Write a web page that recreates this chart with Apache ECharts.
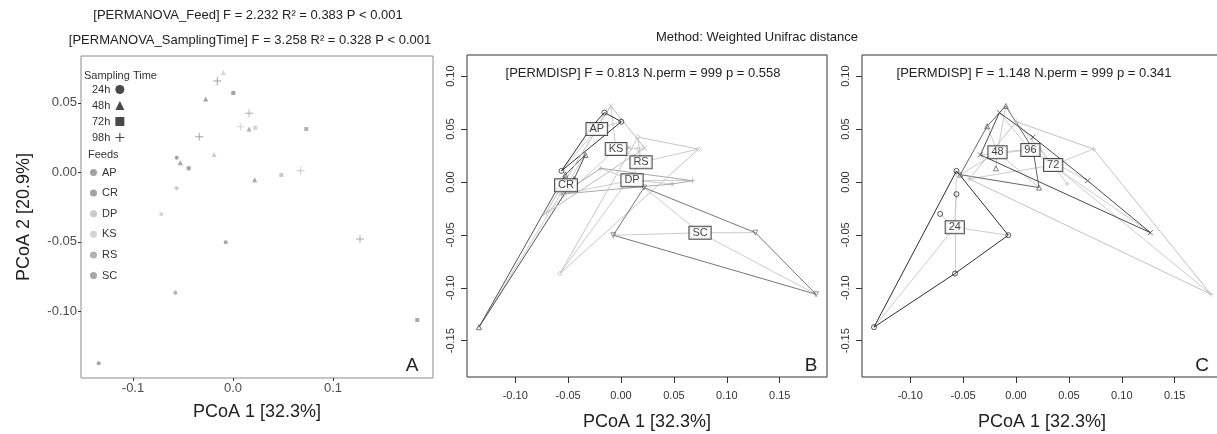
<!DOCTYPE html>
<html lang="en">
<head>
<meta charset="UTF-8" />
<title>PCoA weighted Unifrac</title>
<script src="https://cdn.jsdelivr.net/npm/echarts@6/dist/echarts.min.js"></script>
<style>
  html, body { margin: 0; padding: 0; background: #fff; }
  #main { width: 1217px; height: 434px; }
</style>
</head>
<body>
<div id="main"></div>
<script>
// one sample per feed x sampling time
const pc1 = [-0.0097, -0.0157, 0.0003, -0.0273, 0.016, 0.0077, 0.016, 0.0223, 0.0733, -0.0337, -0.019, -0.0563,
  -0.0527, -0.0443, -0.0563, -0.0717, 0.0677, 0.0483, 0.0217, -0.0073, -0.0577, -0.1343, 0.127, 0.1843]
const pc2 = [0.0718, 0.0656, 0.057, 0.0527, 0.0424, 0.0328, 0.0311, 0.032, 0.0311, 0.0256, 0.0129, 0.0105,
  0.0069, 0.0029, -0.0115, -0.0302, 0.0012, -0.0019, -0.0053, -0.0503, -0.0865, -0.1372, -0.0479, -0.1061]
const sampleFeed = ['KS', 'AP', 'AP', 'AP', 'RS', 'KS', 'RS', 'KS', 'RS', 'CR', 'DP', 'AP',
  'CR', 'CR', 'DP', 'KS', 'DP', 'DP', 'SC', 'SC', 'RS', 'CR', 'SC', 'SC']
const sampleTime = ['48', '96', '72', '48', '96', '96', '48', '72', '72', '96', '48', '24',
  '48', '72', '24', '24', '96', '72', '48', '24', '24', '24', '96', '72']

const feeds = ['AP', 'CR', 'DP', 'KS', 'RS', 'SC']
const times = ['24', '48', '72', '96']
const timeLegend = ['24h', '48h', '72h', '98h']

// group centres (where the labels sit in B and C)
const feedCentreX = [-0.0229, -0.052, 0.0104, -0.0047, 0.0189, 0.0747]
const feedCentreY = [0.050, -0.0031, 0.0016, 0.0312, 0.0186, -0.048]
const timeCentreX = [-0.0579, -0.0175, 0.0351, 0.0136]
const timeCentreY = [-0.0428, 0.0281, 0.016, 0.0302]

const ticksAx = [-0.1, 0, 0.1]
const ticksAy = [-0.1, -0.05, 0, 0.05]
const ticksBx = [-0.1, -0.05, 0, 0.05, 0.1, 0.15]
const ticksBy = [-0.15, -0.1, -0.05, 0, 0.05, 0.1]

const FONT = '"Liberation Sans", Arial, sans-serif'
const PLUS_FILL = 'path://M4.4,0H5.6V4.4H10V5.6H5.6V10H4.4V5.6H0V4.4H4.4Z'
const PLUS_LINE = 'path://M0,5L10,5M5,0L5,10'
const CROSS_LINE = 'path://M0,0L10,10M0,10L10,0'
const TRI_DOWN = 'path://M0,0L10,0L5,8.66Z'

const feedColorA = { AP: '#8a8a8a', CR: '#8c8c8c', DP: '#bdbdbd', KS: '#c9c9c9', RS: '#9d9d9d', SC: '#919191' }
const feedHull = ['#2e2e2e', '#555555', '#a9a9a9', '#bdbdbd', '#c6c6c6', '#777777']
const timeHull = ['#2e2e2e', '#666666', '#c2c2c2', '#4a4a4a']
const spokeColor = '#cdcdcd'

const timeSymA = { '24': 'circle', '48': 'triangle', '72': 'rect', '96': PLUS_FILL }
const timeSizeA = { '24': 4, '48': 5, '72': 4, '96': 8 }

const idx = pc1.map((_, i) => i)

function hull(pts) {
  const p = pts.slice().sort((a, b) => a[0] - b[0] || a[1] - b[1])
  const cross = (o, a, b) => (a[0] - o[0]) * (b[1] - o[1]) - (a[1] - o[1]) * (b[0] - o[0])
  const lower = [], upper = []
  for (const q of p) {
    while (lower.length >= 2 && cross(lower[lower.length - 2], lower[lower.length - 1], q) <= 0) lower.pop()
    lower.push(q)
  }
  for (let i = p.length - 1; i >= 0; i--) {
    const q = p[i]
    while (upper.length >= 2 && cross(upper[upper.length - 2], upper[upper.length - 1], q) <= 0) upper.pop()
    upper.push(q)
  }
  upper.pop(); lower.pop()
  const h = lower.concat(upper)
  h.push(h[0])
  return h
}

// spider + hull + points + centre labels for one panel
function groupPanel(ax, names, key, cx, cy, colors, syms) {
  const out = []
  names.forEach((g, k) => {
    const pts = idx.filter(i => key[i] === g).map(i => [pc1[i], pc2[i]])
    const c = [cx[k], cy[k]]
    out.push({
      type: 'lines', coordinateSystem: 'cartesian2d', xAxisIndex: ax, yAxisIndex: ax, silent: true, z: 2,
      lineStyle: { color: spokeColor, width: 1, opacity: 1 },
      data: pts.map(p => ({ coords: [p, c] }))
    })
    out.push({
      type: 'lines', coordinateSystem: 'cartesian2d', xAxisIndex: ax, yAxisIndex: ax, silent: true, z: 3,
      polyline: true, lineStyle: { color: colors[k], width: 1, opacity: 1 },
      data: [{ coords: hull(pts) }]
    })
    out.push({
      type: 'scatter', name: 'pt' + ax + g, xAxisIndex: ax, yAxisIndex: ax, silent: true, z: 4,
      symbol: syms[k], symbolSize: 5,
      itemStyle: { color: 'rgba(255,255,255,0)', borderColor: colors[k], borderWidth: 1 },
      data: pts
    })
  })
  out.push({
    type: 'scatter', name: 'lab' + ax, xAxisIndex: ax, yAxisIndex: ax, silent: true, z: 10,
    symbolSize: 1, itemStyle: { color: 'rgba(0,0,0,0)' },
    data: names.map((g, k) => ({ name: g, value: [cx[k], cy[k]] })),
    label: {
      show: true, position: 'inside', formatter: '{b}', fontSize: 11, color: '#111', fontFamily: FONT,
      backgroundColor: '#fff', borderColor: '#222', borderWidth: 1, padding: [1, 3, 0, 3]
    }
  })
  return out
}

function axisBC(grid, isX) {
  const ticks = isX ? ticksBx : ticksBy
  const a = {
    gridIndex: grid, type: 'value',
    min: isX ? -0.1456 : -0.1843, max: isX ? 0.1947 : 0.12,
    axisLine: { show: false, onZero: false }, splitLine: { show: false },
    axisTick: { show: true, customValues: ticks, length: 6, lineStyle: { color: '#333' } },
    axisLabel: {
      customValues: ticks, formatter: v => v.toFixed(2), fontSize: 11, color: '#333',
      fontFamily: FONT, margin: isX ? 13 : 11, rotate: isX ? 0 : 90
    }
  }
  if (isX) {
    a.name = 'PCoA 1 [32.3%]'
    a.nameLocation = 'middle'
    a.nameGap = 36
    a.nameTextStyle = { fontSize: 18, color: '#222', fontFamily: FONT }
  }
  return a
}

const seriesA = feeds.map(f => ({
  type: 'scatter', name: f, xAxisIndex: 0, yAxisIndex: 0, silent: true, symbol: 'circle',
  itemStyle: { color: feedColorA[f] },
  data: idx.filter(i => sampleFeed[i] === f).map(i => ({
    value: [pc1[i], pc2[i]], symbol: timeSymA[sampleTime[i]], symbolSize: timeSizeA[sampleTime[i]]
  }))
}))
const legendIcons = ['circle', 'triangle', 'rect', PLUS_FILL]
const timeDummies = timeLegend.map((n, k) => ({
  type: 'scatter', name: n, xAxisIndex: 0, yAxisIndex: 0, symbol: legendIcons[k],
  itemStyle: { color: '#1a1a1a' }, data: []
}))

const option = {
  animation: false,
  backgroundColor: '#fff',
  textStyle: { fontFamily: FONT },
  grid: [
    { left: 81, top: 56, width: 352, height: 322, show: true, borderColor: '#8c8c8c', borderWidth: 1, outerBoundsMode: 'none' },
    { left: 467, top: 55, width: 360, height: 322, show: true, borderColor: '#333', borderWidth: 1, outerBoundsMode: 'none' },
    { left: 862, top: 55, width: 360, height: 322, show: true, borderColor: '#333', borderWidth: 1, outerBoundsMode: 'none' }
  ],
  xAxis: [
    {
      gridIndex: 0, type: 'value', min: -0.152, max: 0.2,
      axisLine: { show: false, onZero: false }, splitLine: { show: false },
      axisTick: { show: true, customValues: ticksAx, length: 3, lineStyle: { color: '#333' } },
      axisLabel: { customValues: ticksAx, formatter: v => v.toFixed(1), fontSize: 13, color: '#4d4d4d', margin: 4 },
      name: 'PCoA 1 [32.3%]', nameLocation: 'middle', nameGap: 25,
      nameTextStyle: { fontSize: 18, color: '#222', fontFamily: FONT }
    },
    axisBC(1, true),
    axisBC(2, true)
  ],
  yAxis: [
    {
      gridIndex: 0, type: 'value', min: -0.1478, max: 0.0836,
      axisLine: { show: false, onZero: false }, splitLine: { show: false },
      axisTick: { show: true, customValues: ticksAy, length: 3, lineStyle: { color: '#333' } },
      axisLabel: { customValues: ticksAy, formatter: v => v.toFixed(2), fontSize: 13, color: '#4d4d4d', margin: 4 },
      name: 'PCoA 2 [20.9%]', nameLocation: 'middle', nameGap: 48,
      nameTextStyle: { fontSize: 18, color: '#222', fontFamily: FONT }
    },
    axisBC(1, false),
    axisBC(2, false)
  ],
  legend: [
    {
      orient: 'vertical', left: 92, top: 84, padding: 0, align: 'right', itemWidth: 9, itemHeight: 9, itemGap: 5,
      selectedMode: false, textStyle: { fontSize: 11, color: '#333' },
      data: timeLegend.map((n, k) => ({ name: n, icon: legendIcons[k], itemStyle: { color: '#1a1a1a' } }))
    },
    {
      orient: 'vertical', left: 90, top: 167, padding: 0, itemWidth: 7, itemHeight: 7, itemGap: 9.6, icon: 'circle',
      selectedMode: false, textStyle: { fontSize: 11, color: '#333' },
      data: feeds
    }
  ],
  graphic: [
    { type: 'text', x: 248, y: 15, style: { text: '[PERMANOVA_Feed] F = 2.232 R² = 0.383 P < 0.001', fontSize: 13, fontFamily: FONT, fill: '#222', align: 'center', verticalAlign: 'middle' } },
    { type: 'text', x: 250, y: 40, style: { text: '[PERMANOVA_SamplingTime] F = 3.258 R² = 0.328 P < 0.001', fontSize: 13, fontFamily: FONT, fill: '#222', align: 'center', verticalAlign: 'middle' } },
    { type: 'text', x: 757, y: 37, style: { text: 'Method: Weighted Unifrac distance', fontSize: 13, fontFamily: FONT, fill: '#222', align: 'center', verticalAlign: 'middle' } },
    { type: 'text', x: 643, y: 73, style: { text: '[PERMDISP] F = 0.813 N.perm = 999 p = 0.558', fontSize: 13, fontFamily: FONT, fill: '#222', align: 'center', verticalAlign: 'middle' } },
    { type: 'text', x: 1034, y: 73, style: { text: '[PERMDISP] F = 1.148 N.perm = 999 p = 0.341', fontSize: 13, fontFamily: FONT, fill: '#222', align: 'center', verticalAlign: 'middle' } },
    { type: 'text', x: 84, y: 76, style: { text: 'Sampling Time', fontSize: 11, fontFamily: FONT, fill: '#333', align: 'left', verticalAlign: 'middle' } },
    { type: 'text', x: 88, y: 155, style: { text: 'Feeds', fontSize: 11, fontFamily: FONT, fill: '#333', align: 'left', verticalAlign: 'middle' } },
    { type: 'text', x: 412, y: 366, style: { text: 'A', fontSize: 19, fontFamily: FONT, fill: '#222', align: 'center', verticalAlign: 'middle' } },
    { type: 'text', x: 811, y: 366, style: { text: 'B', fontSize: 19, fontFamily: FONT, fill: '#222', align: 'center', verticalAlign: 'middle' } },
    { type: 'text', x: 1202, y: 366, style: { text: 'C', fontSize: 19, fontFamily: FONT, fill: '#222', align: 'center', verticalAlign: 'middle' } }
  ],
  series: [
    ...seriesA,
    ...timeDummies,
    ...groupPanel(1, feeds, sampleFeed, feedCentreX, feedCentreY, feedHull,
      ['circle', 'triangle', PLUS_LINE, CROSS_LINE, 'diamond', TRI_DOWN]),
    ...groupPanel(2, times, sampleTime, timeCentreX, timeCentreY, timeHull,
      ['circle', 'triangle', PLUS_LINE, CROSS_LINE])
  ]
}

const chart = echarts.init(document.getElementById('main'))
chart.setOption(option)
</script>
</body>
</html>
